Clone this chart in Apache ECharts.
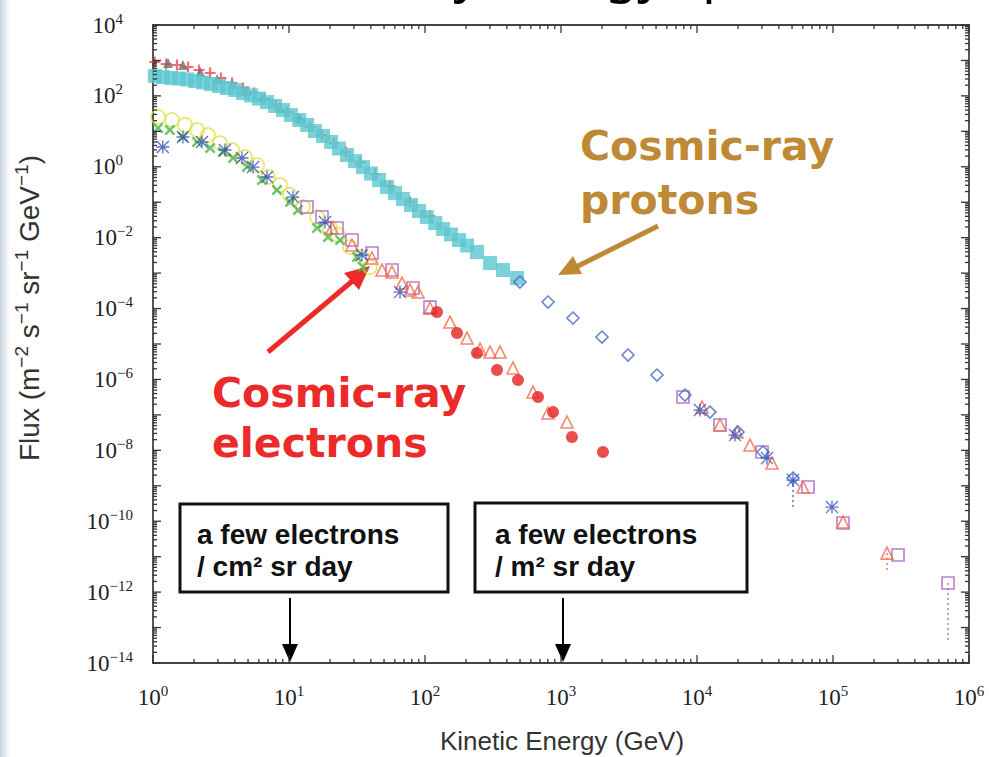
<!DOCTYPE html>
<html><head><meta charset="utf-8">
<script src="https://cdn.jsdelivr.net/npm/echarts@6/dist/echarts.min.js"></script>
<style>html,body{margin:0;padding:0;background:#fff}#c{width:989px;height:757px}</style>
</head><body><div id="c"></div>
<script>
// ---- data (kinetic energy in GeV, flux in m^-2 s^-1 sr^-1 GeV^-1) ----
const cyanE = [1.03,1.18,1.36,1.55,1.78,2.04,2.33,2.67,3.06,3.50,4.01,4.59,5.26,6.02,6.89,7.89,9.03,10.3,11.9,13.6,15.5,17.8,20.4,23.3,26.7,30.6,35.0,40.1,45.9,52.6,60.2,68.9,78.9,90.3,103,119,136,155,178,204,241,301,375,475];
const cyanF = [364,341,319,309,290,263,239,216,190,167,147,120,103,84,67,52,40,28.8,20.8,15.1,10.2,7.4,5.0,3.27,2.15,1.45,0.98,0.645,0.423,0.268,0.182,0.123,0.0834,0.0565,0.0382,0.0259,0.0175,0.0123,0.00857,0.0060,0.00394,0.00192,0.00122,0.000726];
const redPlusE = [1.03,1.25,1.50,1.81,2.18,2.63,3.16,3.81,4.59,5.53,6.66,8.02,9.67,11.65,14.27,17.48,21.42,26.25,33.28,42.9,55.3,77.6,108.8];
const redPlusF = [904,794,743,653,537,442,320,231,167,121,81.6,55.3,35.1,22.3,13.2,7.87,4.68,2.61,1.36,0.625,0.286,0.101,0.0408];
const grayTriE = [1.29,1.66,2.22,2.96,3.81,4.91,6.33,8.59,12.05];
const grayTriF = [847,743,472,299,216,137,93,48.5,23.8];
const yellowE = [1.09,1.38,1.72,2.11,2.54,3.11,3.81,4.75,5.82,7.01,8.59,10.17,12.67,16.07,20.02,22.93,28.09,34.42,39.4];
const yellowF = [25.4,20.9,15.1,10.9,7.87,4.68,2.97,1.89,1.12,0.514,0.305,0.160,0.0732,0.0382,0.0187,0.0119,0.00544,0.00284,0.00148];
const greenE = [1.09,1.33,1.66,2.11,2.63,3.27,3.88,4.91,6.33,8.16,10.17,11.65,16.07,19.36,23.71,31.62,35.0];
const greenF = [12.4,10.9,6.92,5.0,3.38,2.61,1.77,0.984,0.423,0.221,0.101,0.0602,0.0187,0.0104,0.00858,0.00284,0.00148];
const blueStarE = [1.18,1.66,2.29,3.38,4.51,5.44,6.89,10.7,18.4,34.4,65.5,10520,19030,32700,50800,98300];
const blueStarF = [3.61,6.92,5.0,2.97,1.77,0.984,0.514,0.140,0.0276,0.00324,0.000292,1.37e-7,2.70e-8,6.05e-9,1.45e-9,2.51e-10];
const purpleE = [13.56,17.48,22.54,29.05,40.77,57.2,81.6,108.8,7890,14760,30060,65500,118400,300600,701000];
const purpleF = [0.0732,0.0382,0.0187,0.00858,0.00369,0.00122,0.00038,0.00011,3.19e-7,5.17e-8,8.94e-9,9.2e-10,8.87e-11,1.11e-11,1.80e-12];
const orangeE = [20.71,29.05,40.77,48.3,57.2,67.7,77.6,88.8,108.8,152.7,203.6,253.8,300.6,356,443.7,622.6,802.6,1107,10890,14760,19680,24530,35600,60200,118400,249500];
const orangeF = [0.0187,0.0062,0.00266,0.00122,0.00107,0.000525,0.000333,0.000292,0.000103,4.17e-5,1.47e-5,7.21e-6,5.93e-6,5.93e-6,2.10e-6,4.41e-7,1.13e-7,6.28e-8,1.66e-7,5.17e-8,3.28e-8,1.41e-8,4.38e-9,9.2e-10,9.47e-11,1.26e-11];
const redDotE = [122.5,171.9,241.2,338.3,482.9,677.3,873.4,1204,2036];
const redDotF = [7.98e-5,2.04e-5,5.56e-6,1.84e-6,9.6e-7,3.19e-7,1.20e-7,2.37e-8,8.94e-9];
const diamondE = [499,803,1225,2002,3109,5080,8163,12460,20020,30570,50800];
const diamondF = [5.6e-4,1.53e-4,5.4e-5,1.57e-5,4.88e-6,1.33e-6,3.63e-7,1.20e-7,3.28e-8,8.94e-9,1.65e-9];
// error bars: energy, upper flux, lower flux
const errPurple = [701000, 1.8e-12, 4.4e-14];
const errBlue = [50800, 1.45e-9, 2.07e-10];
const errOrange = [249500, 1.26e-11, 4.19e-12];
// axis ticks
const xDecadeExps = [0,1,2,3,4,5,6];
const yDecadeExps = [-14,-13,-12,-11,-10,-9,-8,-7,-6,-5,-4,-3,-2,-1,0,1,2,3,4];
const minorMult = [2,3,4,5,6,7,8,9];
// texts
const xTitle = 'Kinetic Energy (GeV)';
const titleText = 'Cosmic-ray energy spectrum';
const electronLabel = 'Cosmic-ray\nelectrons';
const protonLabel = 'Cosmic-ray\nprotons';
const box1Text = 'a few electrons\n/ cm\u00b2 sr day';
const box2Text = 'a few electrons\n/ m\u00b2 sr day';

const zip = (a, b) => a.map((v, i) => [v, b[i]]);

const P_PLUS = 'path://M4,0H6V4H10V6H6V10H4V6H0V4H4Z';
const P_STAR = 'path://M9,0H11V20H9Z M0,9H20V11H0Z M1.4,0L20,18.6L18.6,20L0,1.4Z M18.6,0L20,1.4L1.4,20L0,18.6Z';

function openStyle(c) { return { color: 'rgba(255,255,255,0)', borderColor: c, borderWidth: 1.6 }; }

function scatter(name, e, f, symbol, size, itemStyle, extra) {
  return Object.assign({ type: 'scatter', name, data: zip(e, f), symbol, symbolSize: size,
    itemStyle, silent: true, animation: false }, extra || {});
}
function errLine(arr, color) {
  return { type: 'line', data: [[arr[0], arr[1]], [arr[0], arr[2]]], symbol: 'none', silent: true,
    lineStyle: { color, width: 1.5, type: [2, 3] }, animation: false, z: 1 };
}

const xTickData = [];
xDecadeExps.forEach(k => {
  xTickData.push([Math.pow(10, k), 1, 0]);
  if (k < 6) minorMult.forEach(m => xTickData.push([m * Math.pow(10, k), 1, 1]));
});
const yTickData = [];
yDecadeExps.forEach(k => {
  yTickData.push([1, Math.pow(10, k), 0]);
  if (k < 4) minorMult.forEach(m => yTickData.push([1, m * Math.pow(10, k), 1]));
});
const TICK = '#333';
function xTickRender(params, api) {
  const v = api.value(0), minor = api.value(2);
  const b = api.coord([v, 1e-14]), t = api.coord([v, 1e4]);
  const len = minor ? 4 : 8;
  return { type: 'group', children: [
    { type: 'line', shape: { x1: b[0], y1: b[1], x2: b[0], y2: b[1] - len }, style: { stroke: TICK, lineWidth: 1.3 } },
    { type: 'line', shape: { x1: t[0], y1: t[1], x2: t[0], y2: t[1] + len }, style: { stroke: TICK, lineWidth: 1.3 } }
  ] };
}
function yTickRender(params, api) {
  const v = api.value(1), minor = api.value(2);
  const l = api.coord([1, v]), r = api.coord([1e6, v]);
  const len = minor ? 4 : 8;
  return { type: 'group', children: [
    { type: 'line', shape: { x1: l[0], y1: l[1], x2: l[0] + len, y2: l[1] }, style: { stroke: TICK, lineWidth: 1.3 } },
    { type: 'line', shape: { x1: r[0], y1: r[1], x2: r[0] - len, y2: r[1] }, style: { stroke: TICK, lineWidth: 1.3 } }
  ] };
}

function powLabel(pad) {
  return function (v) {
    const e = Math.round(Math.log10(v));
    const s = e < 0 ? '\u2212' + (-e) : String(e);
    return '{b|10}{s|' + s + '}' + (pad && e >= 0 ? '{p| }' : '');
  };
}
const labelRich = {
  b: { fontFamily: 'Liberation Serif', fontSize: 23, color: '#222', lineHeight: 28, verticalAlign: 'middle' },
  s: { fontFamily: 'Liberation Serif', fontSize: 15, color: '#222', lineHeight: 15, verticalAlign: 'top' },
  p: { fontSize: 10, width: 10 }
};

const chart = echarts.init(document.getElementById('c'), null, { renderer: 'svg' });
chart.setOption({
  animation: false,
  backgroundColor: '#fff',
  grid: { left: 153, right: 20, top: 25, bottom: 94, show: true, borderColor: '#444', borderWidth: 1.8, backgroundColor: 'rgba(0,0,0,0)' },
  xAxis: { type: 'log', logBase: 10, min: 1, max: 1e6,
    axisLine: { show: false }, axisTick: { show: false }, splitLine: { show: false }, minorTick: { show: false },
    axisLabel: { formatter: powLabel(false), rich: labelRich, margin: 20 } },
  yAxis: { type: 'log', logBase: 10, min: 1e-14, max: 1e4, interval: 2,
    axisLine: { show: false }, axisTick: { show: false }, splitLine: { show: false }, minorTick: { show: false },
    axisLabel: { formatter: powLabel(true), rich: labelRich, margin: 20 } },
  series: [
    { type: 'custom', renderItem: xTickRender, data: xTickData, silent: true, z: 5, animation: false, encode: { x: 0, y: 1 } },
    { type: 'custom', renderItem: yTickRender, data: yTickData, silent: true, z: 5, animation: false, encode: { x: 0, y: 1 } },
    errLine(errPurple, '#B07ACB'),
    errLine(errBlue, '#5570C8'),
    errLine(errOrange, '#F27F62'),
    scatter('red-plus', redPlusE, redPlusF, P_PLUS, 11, { color: '#E8484C' }),
    scatter('gray-tri', grayTriE, grayTriF, 'triangle', 10, { color: '#6E6E6E' }),
    scatter('cyan', cyanE, cyanF, 'rect', 14, { color: '#5BC7D0' }),
    scatter('yellow', yellowE, yellowF, 'circle', 14, openStyle('#E2DF3C')),
    scatter('green', greenE, greenF, P_PLUS, 13, { color: '#4DB548' }, { symbolRotate: 45 }),
    scatter('purple', purpleE, purpleF, 'rect', 12, openStyle('#A560C6')),
    scatter('orange', orangeE, orangeF, 'triangle', 12, openStyle('#F26B4B')),
    scatter('blue-star', blueStarE, blueStarF, P_STAR, 13, { color: '#2F4DB2' }),
    scatter('red-dot', redDotE, redDotF, 'circle', 12, { color: '#E4221F' }),
    scatter('diamond', diamondE, diamondF, 'diamond', 12, openStyle('#4768C2'))
  ],
  graphic: [
    { type: 'rect', shape: { x: 0, y: 0, width: 10, height: 757 }, silent: true,
      style: { fill: new echarts.graphic.LinearGradient(0, 0, 1, 0, [{ offset: 0, color: '#cdd6e0' }, { offset: 1, color: '#ffffff' }]) } },
    { type: 'text', x: 211, y: -4, silent: true,
      style: { text: titleText, fontFamily: 'Noto Sans', fontSize: 52, fill: '#000', align: 'left', verticalAlign: 'bottom' } },
    { type: 'text', x: 29, y: 308, rotation: Math.PI / 2, silent: true,
      style: { text: '{a|Flux (m}{s|\u22122}{a| s}{s|\u22121}{a| sr}{s|\u22121}{a| GeV}{s|\u22121}{a|)}',
        align: 'center', verticalAlign: 'middle',
        rich: { a: { fontFamily: 'Liberation Sans', fontSize: 28, fill: '#333', lineHeight: 34, verticalAlign: 'middle' },
                s: { fontFamily: 'Liberation Sans', fontSize: 19, fill: '#333', lineHeight: 20, verticalAlign: 'top' } } } },
    { type: 'text', x: 562, y: 741, silent: true,
      style: { text: xTitle, fontFamily: 'Liberation Sans', fontSize: 26, fill: '#333', align: 'center', verticalAlign: 'middle' } },
    // proton annotation
    { type: 'text', x: 580, y: 119, silent: true,
      style: { text: protonLabel, fontFamily: 'DejaVu Sans', fontWeight: 'bold', fontSize: 41, lineHeight: 54, fill: '#BE8A36', align: 'left', verticalAlign: 'top' } },
    { type: 'line', shape: { x1: 658, y1: 226, x2: 574, y2: 268 }, silent: true, style: { stroke: '#BE8A36', lineWidth: 5 } },
    { type: 'polygon', shape: { points: [[558, 275], [582, 274], [573, 256]] }, silent: true, style: { fill: '#BE8A36' } },
    // electron annotation
    { type: 'text', x: 212, y: 368, silent: true,
      style: { text: electronLabel, fontFamily: 'DejaVu Sans', fontWeight: 'bold', fontSize: 41, lineHeight: 50, fill: '#EC2A2A', align: 'left', verticalAlign: 'top' } },
    { type: 'line', shape: { x1: 268, y1: 352, x2: 356, y2: 278 }, silent: true, style: { stroke: '#EC2A2A', lineWidth: 5 } },
    { type: 'polygon', shape: { points: [[370, 266], [359, 290], [344, 273]] }, silent: true, style: { fill: '#EC2A2A' } },
    // boxes
    { type: 'rect', shape: { x: 180, y: 504, width: 268, height: 88 }, silent: true, style: { fill: '#fff', stroke: '#111', lineWidth: 3 } },
    { type: 'text', x: 197, y: 518, silent: true,
      style: { text: box1Text, fontFamily: 'Liberation Sans', fontWeight: 'bold', fontSize: 28, lineHeight: 32, fill: '#111', align: 'left', verticalAlign: 'top' } },
    { type: 'rect', shape: { x: 475, y: 503, width: 272, height: 89 }, silent: true, style: { fill: '#fff', stroke: '#111', lineWidth: 3 } },
    { type: 'text', x: 495, y: 518, silent: true,
      style: { text: box2Text, fontFamily: 'Liberation Sans', fontWeight: 'bold', fontSize: 28, lineHeight: 32, fill: '#111', align: 'left', verticalAlign: 'top' } },
    { type: 'line', shape: { x1: 290, y1: 598, x2: 290, y2: 648 }, silent: true, style: { stroke: '#000', lineWidth: 2 } },
    { type: 'polygon', shape: { points: [[290, 662], [282, 644], [298, 644]] }, silent: true, style: { fill: '#000' } },
    { type: 'line', shape: { x1: 563, y1: 598, x2: 563, y2: 648 }, silent: true, style: { stroke: '#000', lineWidth: 2 } },
    { type: 'polygon', shape: { points: [[563, 662], [555, 644], [571, 644]] }, silent: true, style: { fill: '#000' } }
  ]
});
</script>
</body></html>
